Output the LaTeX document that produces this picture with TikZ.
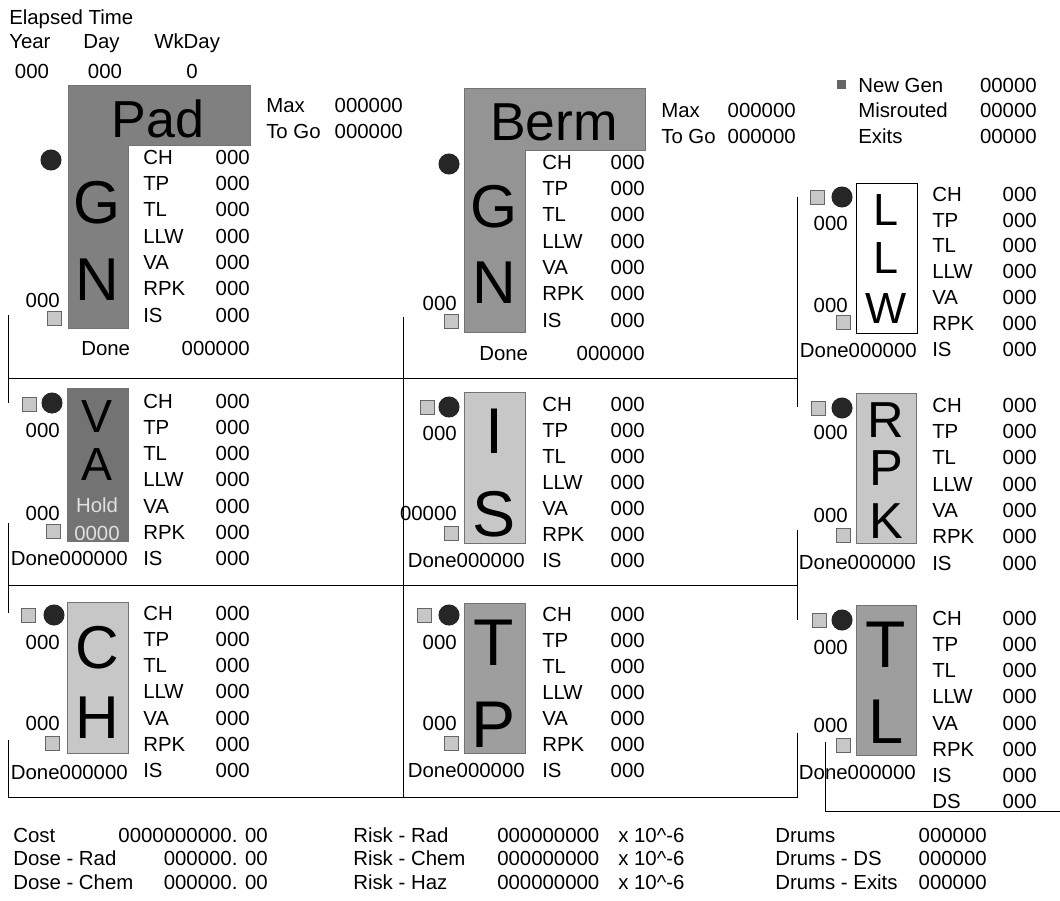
\documentclass[tikz,border=0pt]{standalone}
\usepackage{fontspec}
\setmainfont{Liberation Sans}
\tikzset{
    txt/.style={font=\fontsize{14.5}{17}\selectfont, inner sep=0pt,
                text height=10.4pt, text depth=0pt},
    lab/.style={txt, anchor=west},
    val/.style={txt, anchor=east},
    letter/.style={inner sep=0pt, anchor=base},
    tank/.style={draw=black!55, line width=0.3pt},
    dark/.style={tank, fill=black!50},
    mid/.style={tank, fill=black!38},
    light/.style={tank, fill=black!22},
    lamp/.style={circle, fill=black!85, minimum size=15pt, inner sep=0pt},
    feed/.style={draw=black!60, fill=black!22, minimum size=10pt, inner sep=0pt},
    frame/.style={line width=0.7pt},
}
% one column of waste counts
\newcommand{\statcol}[5]{
    \foreach \lab [count=\i from 0] in {CH,TP,TL,LLW,VA,RPK,IS} {
        \node[lab] (#1-\lab) at (#2,{#4+\i*#5}) {\lab};
        \node[val] (#1-\lab-v) at (#3,{#4+\i*#5}) {000};
    }
}
\newcommand{\bigletter}[4]{
    \node[letter, font=\fontsize{#3}{#3}\selectfont] (#1) at (#2) {#4};
}

\begin{document}
\begin{tikzpicture}[x=0.025cm, y=-0.025cm]
    \useasboundingbox (0,0) rectangle (1060,901);

    % clock
    \node[lab] (elapsed) at (9,17) {Elapsed Time};
    \node[lab] (year) at (9,41) {Year};
    \node[lab] (day) at (83,41) {Day};
    \node[lab] (wkday) at (154,41) {WkDay};
    \node[txt] (year-v) at (32,71) {000};
    \node[txt] (day-v) at (105,71) {000};
    \node[txt] (wkday-v) at (192,71) {0};

    % frames
    \draw[frame] (8,315) -- (8,403);
    \draw[frame] (8,378) -- (797,378);
    \draw[frame] (403,317) -- (403,797);
    \draw[frame] (797,197) -- (797,407);
    \draw[frame] (8,523) -- (8,613);
    \draw[frame] (8,585) -- (797,585);
    \draw[frame] (797,530) -- (797,620);
    \draw[frame] (8,740) -- (8,797) -- (797,797) -- (797,733);
    \draw[frame] (825,742) -- (825,811) -- (1060,811);

    % Pad
    \draw[dark] (68,85) -- (250,85) -- (250,145) -- (128,145) -- (128,328) -- (68,328) -- cycle;
    \bigletter{pad}{158,137}{37}{Pad}
    \bigletter{pad-G}{97,223}{43}{G}
    \bigletter{pad-N}{97,300}{43}{N}
    \node[lamp] (pad-lamp) at (51,160) {};
    \node[val] (pad-out) at (60,300) {000};
    \node[feed] (pad-feed) at (54,318) {};
    \statcol{pad}{143}{250}{157}{26.3}
    \node[lab] (pad-done) at (81,348) {Done};
    \node[val] (pad-done-v) at (250,348) {000000};
    \node[lab] (pad-max) at (266,105) {Max};
    \node[val] (pad-max-v) at (403,105) {000000};
    \node[lab] (pad-togo) at (266,131) {To Go};
    \node[val] (pad-togo-v) at (403,131) {000000};

    % Berm
    \draw[dark, fill=black!42] (464,88) -- (645,88) -- (645,150) -- (525,150) -- (525,332) -- (464,332) -- cycle;
    \bigletter{berm}{554,140}{38}{Berm}
    \bigletter{berm-G}{494,227}{43}{G}
    \bigletter{berm-N}{494,303}{43}{N}
    \node[lamp] (berm-lamp) at (449,164) {};
    \node[val] (berm-out) at (457,303) {000};
    \node[feed] (berm-feed) at (451,321) {};
    \statcol{berm}{542}{645}{162}{26.3}
    \node[lab] (berm-done) at (479,353) {Done};
    \node[val] (berm-done-v) at (645,353) {000000};
    \node[lab] (berm-max) at (661,110) {Max};
    \node[val] (berm-max-v) at (796,110) {000000};
    \node[lab] (berm-togo) at (661,136) {To Go};
    \node[val] (berm-togo-v) at (796,136) {000000};

    % totals
    \node[feed, minimum size=6pt, fill=black!60] (newgen-mark) at (841,84) {};
    \node[lab] (newgen) at (858,85) {New Gen};
    \node[val] (newgen-v) at (1037,85) {00000};
    \node[lab] (misrouted) at (858,110) {Misrouted};
    \node[val] (misrouted-v) at (1037,110) {00000};
    \node[lab] (exits) at (858,136) {Exits};
    \node[val] (exits-v) at (1037,136) {00000};

    % LLW
    \draw[tank, draw=black, fill=white] (856,183) rectangle (917,333);
    \bigletter{llw-L}{886,225}{32}{L}
    \bigletter{llw-LL}{886,273}{32}{L}
    \bigletter{llw-W}{886,323}{31}{W}
    \node[feed] (llw-feed) at (817,197) {};
    \node[lamp] (llw-lamp) at (842,197) {};
    \node[val] (llw-in) at (848,223) {000};
    \node[val] (llw-out) at (848,305) {000};
    \node[feed] (llw-drain) at (843,322) {};
    \statcol{llw}{932}{1037}{194}{25.8}
    \node[val] (llw-done) at (917,350) {Done000000};

    % VA
    \draw[dark, fill=black!55] (67,388) rectangle (128,541);
    \bigletter{va-V}{97,432}{33}{V}
    \bigletter{va-A}{97,480}{33}{A}
    \node[txt, text=black!12] (va-hold) at (97,505) {Hold};
    \node[txt, text=black!12] (va-hold-v) at (97,533) {0000};
    \node[feed] (va-feed) at (29,404) {};
    \node[lamp] (va-lamp) at (52,403) {};
    \node[val] (va-in) at (60,430) {000};
    \node[val] (va-out) at (60,513) {000};
    \node[feed] (va-drain) at (53,531) {};
    \statcol{va}{143}{250}{401}{26.2}
    \node[val] (va-done) at (128,558) {Done000000};

    % IS
    \draw[light] (464,392) rectangle (525,543);
    \bigletter{is-I}{494,453}{46}{I}
    \bigletter{is-S}{494,536}{46}{S}
    \node[feed] (is-feed) at (427,407) {};
    \node[lamp] (is-lamp) at (449,407) {};
    \node[val] (is-in) at (457,433) {000};
    \node[val] (is-out) at (457,513) {00000};
    \node[feed] (is-drain) at (451,533) {};
    \statcol{is}{542}{645}{404}{26}
    \node[val] (is-done) at (525,560) {Done000000};

    % RPK
    \draw[light] (856,393) rectangle (916,543);
    \bigletter{rpk-R}{886,437}{36}{R}
    \bigletter{rpk-P}{886,485}{36}{P}
    \bigletter{rpk-K}{886,538}{36}{K}
    \node[feed] (rpk-feed) at (818,408) {};
    \node[lamp] (rpk-lamp) at (842,408) {};
    \node[val] (rpk-in) at (848,432) {000};
    \node[val] (rpk-out) at (848,515) {000};
    \node[feed] (rpk-drain) at (843,535) {};
    \statcol{rpk}{932}{1037}{405}{26.3}
    \node[val] (rpk-done) at (916,562) {Done000000};

    % CH
    \draw[light] (67,602) rectangle (128,753);
    \bigletter{ch-C}{97,668}{43}{C}
    \bigletter{ch-H}{97,738}{43}{H}
    \node[feed] (ch-feed) at (28,615) {};
    \node[lamp] (ch-lamp) at (54,615) {};
    \node[val] (ch-in) at (60,642) {000};
    \node[val] (ch-out) at (60,723) {000};
    \node[feed] (ch-drain) at (52,743) {};
    \statcol{ch}{143}{250}{613}{26.2}
    \node[val] (ch-done) at (128,772) {Done000000};

    % TP
    \draw[mid] (464,603) rectangle (525,753);
    \bigletter{tp-T}{494,665}{47}{T}
    \bigletter{tp-P}{494,747}{47}{P}
    \node[feed] (tp-feed) at (424,615) {};
    \node[lamp] (tp-lamp) at (449,615) {};
    \node[val] (tp-in) at (457,642) {000};
    \node[val] (tp-out) at (457,723) {000};
    \node[feed] (tp-drain) at (451,743) {};
    \statcol{tp}{542}{645}{614}{26}
    \node[val] (tp-done) at (525,770) {Done000000};

    % TL
    \draw[mid] (856,605) rectangle (916,755);
    \bigletter{tl-T}{886,667}{47}{T}
    \bigletter{tl-L}{886,743}{45}{L}
    \node[feed] (tl-feed) at (819,620) {};
    \node[lamp] (tl-lamp) at (842,620) {};
    \node[val] (tl-in) at (848,647) {000};
    \node[val] (tl-out) at (848,725) {000};
    \node[feed] (tl-drain) at (843,745) {};
    \statcol{tl}{932}{1037}{618}{26.2}
    \node[lab] (tl-DS) at (932,801) {DS};
    \node[val] (tl-DS-v) at (1037,801) {000};
    \node[val] (tl-done) at (916,772) {Done000000};

    % summary
    \node[lab] (cost) at (13,835) {Cost};
    \node[val] (cost-v) at (268,835) {0000000000. 00};
    \node[lab] (doserad) at (13,858) {Dose - Rad};
    \node[val] (doserad-v) at (268,858) {000000. 00};
    \node[lab] (dosechem) at (13,882) {Dose - Chem};
    \node[val] (dosechem-v) at (268,882) {000000. 00};
    \node[lab] (riskrad) at (353,835) {Risk - Rad};
    \node[lab] (riskrad-v) at (497,835) {000000000};
    \node[lab] (riskrad-u) at (618,835) {x 10\textasciicircum-6};
    \node[lab] (riskchem) at (353,858) {Risk - Chem};
    \node[lab] (riskchem-v) at (497,858) {000000000};
    \node[lab] (riskchem-u) at (618,858) {x 10\textasciicircum-6};
    \node[lab] (riskhaz) at (353,882) {Risk - Haz};
    \node[lab] (riskhaz-v) at (497,882) {000000000};
    \node[lab] (riskhaz-u) at (618,882) {x 10\textasciicircum-6};
    \node[lab] (drums) at (775,835) {Drums};
    \node[val] (drums-v) at (987,835) {000000};
    \node[lab] (drumsds) at (775,858) {Drums - DS};
    \node[val] (drumsds-v) at (987,858) {000000};
    \node[lab] (drumsexits) at (775,882) {Drums - Exits};
    \node[val] (drumsexits-v) at (987,882) {000000};

\end{tikzpicture}
\end{document}
